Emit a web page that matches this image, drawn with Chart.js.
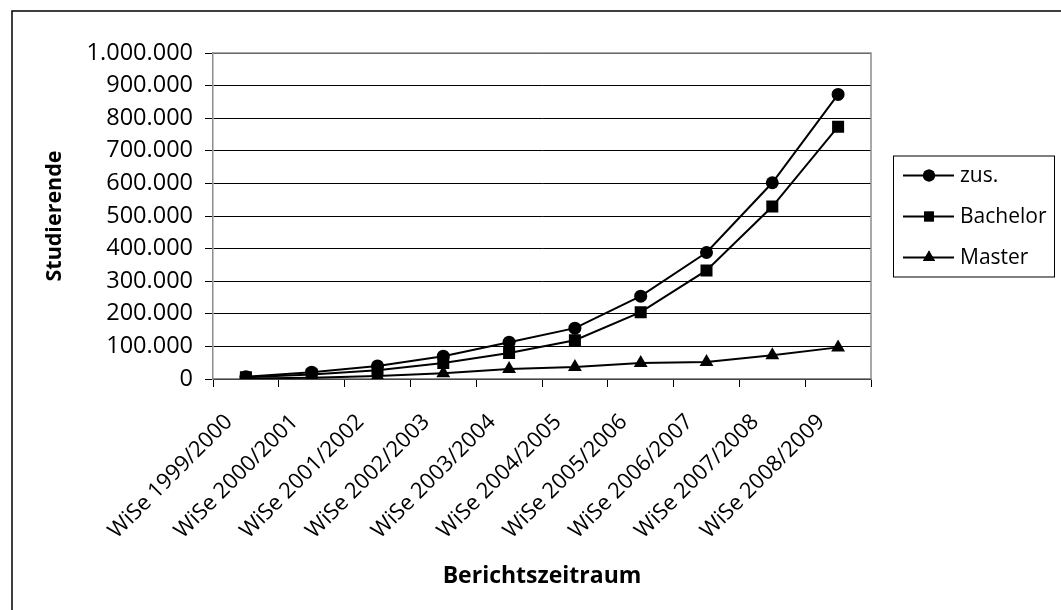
<!DOCTYPE html>
<html>
<head>
<meta charset="utf-8">
<script src="https://cdn.jsdelivr.net/npm/chart.js@4/dist/chart.umd.min.js"></script>
<style>
  html, body { margin: 0; padding: 0; background: #fff; }
  #wrap { width: 1061px; height: 610px; }
</style>
</head>
<body>
<div id="wrap"><canvas id="studChart" width="1061" height="610"></canvas></div>
<script>
const semesters = ['WiSe 1999/2000', 'WiSe 2000/2001', 'WiSe 2001/2002', 'WiSe 2002/2003', 'WiSe 2003/2004',
  'WiSe 2004/2005', 'WiSe 2005/2006', 'WiSe 2006/2007', 'WiSe 2007/2008', 'WiSe 2008/2009']
const zus = [7000, 21000, 40000, 70000, 113000, 156000, 254000, 388000, 602000, 873000]
const bachelor = [5000, 14000, 27000, 49000, 80000, 119000, 205000, 333000, 529000, 774000]
const master = [1500, 4000, 9000, 18000, 31000, 37000, 49000, 52000, 73000, 97000]
const yMax = 1000000
const yStep = 100000

const fontFam = '"Open Sans", "Noto Sans", sans-serif'

const formatDe = (v) => String(v).replace(/\B(?=(\d{3})+(?!\d))/g, '.')

// frame, plot border and the boxed legend
const decor = {
  id: 'decor',
  beforeDraw(chart) {
    const ctx = chart.ctx
    ctx.save()
    ctx.fillStyle = '#fff'
    ctx.fillRect(0, 0, chart.width, chart.height)
    ctx.strokeStyle = '#000'
    ctx.lineWidth = 1.5
    ctx.strokeRect(12, 11, chart.width + 50, chart.height + 50)
    ctx.restore()
  },
  afterDraw(chart) {
    const ctx = chart.ctx
    const a = chart.chartArea
    ctx.save()
    ctx.strokeStyle = '#8c8c8c'
    ctx.lineWidth = 1.5
    ctx.beginPath()
    ctx.moveTo(a.left, a.top)
    ctx.lineTo(a.right, a.top)
    ctx.lineTo(a.right, a.bottom)
    ctx.stroke()

    // legend
    const sets = chart.data.datasets
    const bx = a.right + 22, bw = 161, rowH = 41
    const bh = rowH * sets.length - 2
    const by = (a.top + a.bottom) / 2 - bh / 2
    ctx.strokeStyle = '#000'
    ctx.lineWidth = 1
    ctx.strokeRect(bx + 0.5, by + 0.5, bw, bh)
    ctx.font = '21px ' + fontFam
    ctx.textAlign = 'left'
    ctx.textBaseline = 'middle'
    sets.forEach((ds, i) => {
      const y = by + 20 + i * rowH
      ctx.lineWidth = 2
      ctx.beginPath()
      ctx.moveTo(bx + 10, y)
      ctx.lineTo(bx + 61, y)
      ctx.stroke()
      const r = ds.pointStyle === 'circle' ? 6 : 7
      Chart.helpers.drawPoint(ctx, { pointStyle: ds.pointStyle, radius: r, rotation: 0, borderWidth: 0 }, bx + 36, y)
      ctx.fillStyle = '#000'
      ctx.fill()
      ctx.fillText(ds.label, bx + 67, y + 1)
    })
    ctx.restore()
  }
}

const ctx = document.getElementById('studChart')
const studChart = new Chart(ctx, {
  type: 'line',
  data: {
    labels: semesters,
    datasets: [
      { label: 'zus.', data: zus, pointStyle: 'circle', pointRadius: 6.5 },
      { label: 'Bachelor', data: bachelor, pointStyle: 'rect', pointRadius: 8.5 },
      { label: 'Master', data: master, pointStyle: 'triangle', pointRadius: 8 }
    ].map(d => Object.assign(d, {
      borderColor: '#000', backgroundColor: '#000', borderWidth: 2,
      pointBackgroundColor: '#000', pointBorderColor: '#000', pointBorderWidth: 0,
      tension: 0, fill: false
    }))
  },
  options: {
    responsive: false,
    animation: false,
    layout: { padding: { left: 42, top: 53, right: 190, bottom: 0 } },
    plugins: { legend: { display: false }, tooltip: { enabled: false } },
    scales: {
      x: {
        offset: true,
        afterFit: (s) => { s.height = 231 },
        grid: { offset: true, drawOnChartArea: false, tickLength: 8, tickColor: '#000' },
        border: { color: '#8c8c8c', width: 1.5 },
        ticks: { color: '#000', font: { family: fontFam, size: 22 }, minRotation: 45, maxRotation: 45, padding: 22, labelOffset: -17 },
        title: { display: true, text: 'Berichtszeitraum', color: '#000', font: { family: fontFam, size: 23, weight: 'bold' }, padding: { top: 0, bottom: 20 } }
      },
      y: {
        min: 0,
        max: yMax,
        afterFit: (s) => { s.width = 213 - 42 },
        grid: { color: '#000', tickColor: '#000', tickLength: 8, lineWidth: 1 },
        border: { color: '#8c8c8c', width: 1.5 },
        ticks: { stepSize: yStep, color: '#000', font: { family: fontFam, size: 23.5 }, padding: 12, callback: (v) => formatDe(v) },
        title: { display: true, text: 'Studierende', color: '#000', font: { family: fontFam, size: 21.5, weight: 'bold' }, padding: 0 }
      }
    }
  },
  plugins: [decor]
})
</script>
</body>
</html>
